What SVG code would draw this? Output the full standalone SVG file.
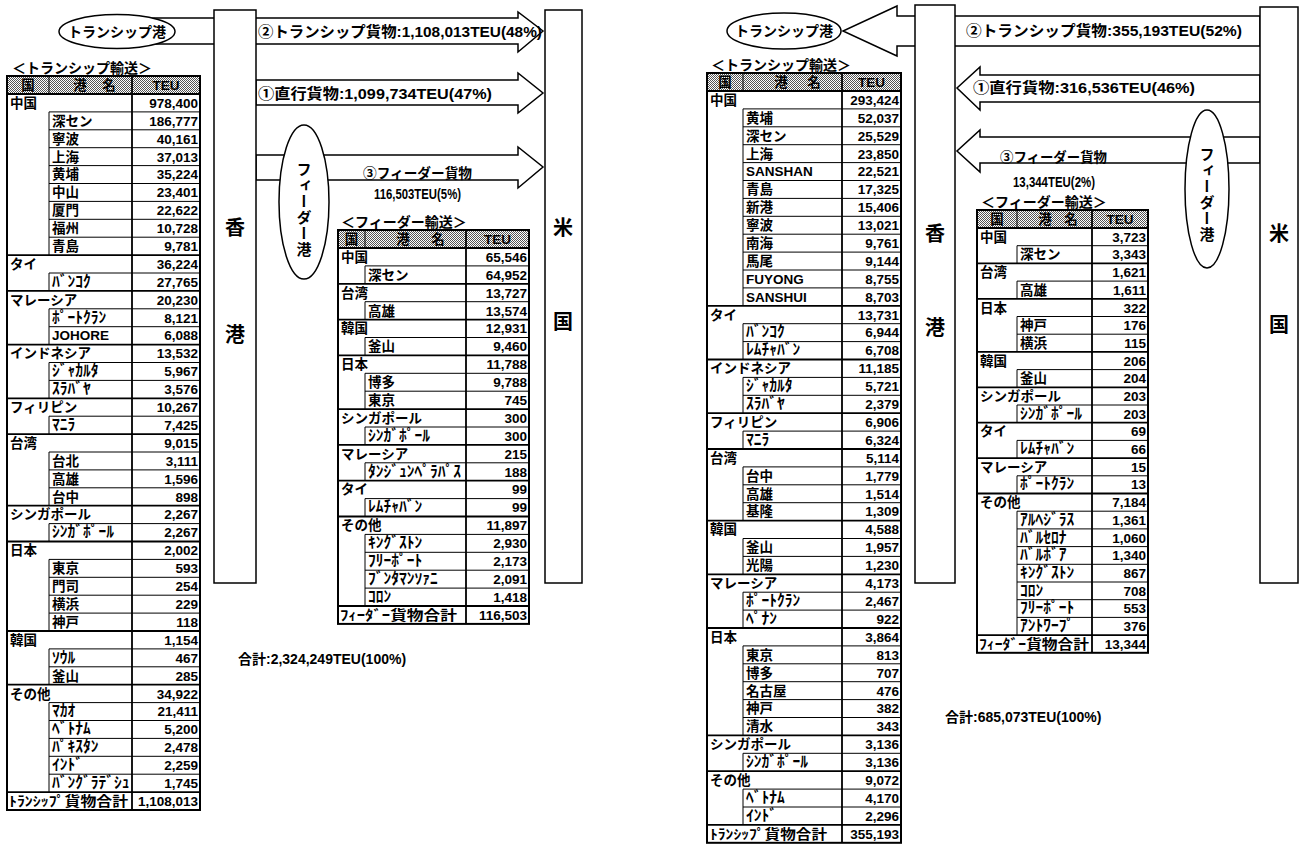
<svg xmlns="http://www.w3.org/2000/svg" width="1305" height="846" viewBox="0 0 1305 846">
<defs>
<pattern id="dot" width="2" height="2" patternUnits="userSpaceOnUse"><rect width="2" height="2" fill="#fff"/><rect width="1" height="1" fill="#555"/><rect x="1" y="1" width="1" height="1" fill="#555"/></pattern>
<style>
.t{font-family:"Liberation Sans","Noto Sans CJK JP",sans-serif;font-weight:bold;font-size:13.5px;fill:#000}
.k{font-size:15.5px}
.n{text-anchor:end}
.m{text-anchor:middle}
.lab{font-size:15px}
.lab2{font-size:14px}
.lab3{font-size:15px}
.ttl{font-size:14px}
.big{font-size:20px;text-anchor:middle}
.vt{font-family:"Noto Sans CJK JP",sans-serif;font-weight:bold;font-size:15px;writing-mode:vertical-rl;letter-spacing:1px}
.box{fill:#fff;stroke:#000;stroke-width:1.5}
.arr{fill:#fff;stroke:#000;stroke-width:1.5;stroke-linejoin:miter}
.thin{fill:none;stroke:#000;stroke-width:1}
.thick{fill:none;stroke:#000;stroke-width:1.8}
.outer{fill:none;stroke:#000;stroke-width:2}
.hdr{fill:url(#dot);stroke:#000;stroke-width:1}
</style>
</defs>
<rect width="1305" height="846" fill="#fff"/>

<g id="connectors">
<polygon class="arr" points="150,18 518,18 518,12 543,31 518,52 518,44 150,44"/>
<polygon class="arr" points="256,80 518,80 518,73 543,93 518,113 518,105 256,105"/>
<polygon class="arr" points="256,155 518,155 518,147 543,167 518,188 518,180 256,180"/>
<polygon class="arr" points="1260,16 897,16 897,6 843,31 897,56 897,46 1260,46"/>
<polygon class="arr" points="1260,75 980,75 980,67 957,88 980,110 980,102 1260,102"/>
<polygon class="arr" points="1260,137 980,137 980,130 957,151 980,172 980,163 1260,163"/>
</g>

<g id="hk-left"><rect class="box" x="214" y="10" width="42" height="573"/><text class="t big" x="235" y="235">香</text><text class="t big" x="235" y="342">港</text></g>
<g id="us-left"><rect class="box" x="545" y="10" width="37" height="573"/><text class="t big" x="563" y="235">米</text><text class="t big" x="563" y="329">国</text></g>
<g id="hk-right"><rect class="box" x="915" y="5" width="40" height="578"/><text class="t big" x="935" y="241">香</text><text class="t big" x="935" y="335">港</text></g>
<g id="us-right"><rect class="box" x="1260" y="7" width="38" height="576"/><text class="t big" x="1279" y="241">米</text><text class="t big" x="1279" y="332">国</text></g>

<g id="tp-left"><ellipse class="box" cx="117" cy="31.5" rx="58" ry="17"/><text class="t ttl m" x="117" y="37">トランシップ港</text></g>
<g id="tp-right"><ellipse class="box" cx="784" cy="31" rx="57" ry="18"/><text class="t ttl m" x="784" y="36">トランシップ港</text></g>
<g id="feeder-left"><ellipse class="box" cx="304" cy="202" rx="25" ry="77"/><text class="vt" x="304" y="162">フィーダー港</text></g>
<g id="feeder-right"><ellipse class="box" cx="1207" cy="189" rx="22" ry="79"/><text class="vt" x="1207" y="147">フィーダー港</text></g>

<g id="labels">
<text class="t lab" x="258" y="37" textLength="284" lengthAdjust="spacingAndGlyphs">②トランシップ貨物:1,108,013TEU(48%)</text>
<text class="t lab" x="258" y="99" textLength="234" lengthAdjust="spacingAndGlyphs">①直行貨物:1,099,734TEU(47%)</text>
<text class="t lab2" x="363" y="178" textLength="109" lengthAdjust="spacingAndGlyphs">③フィーダー貨物</text>
<text class="t lab3" x="374" y="199" textLength="87" lengthAdjust="spacingAndGlyphs">116,503TEU(5%)</text>
<text class="t lab" x="966" y="36" textLength="276" lengthAdjust="spacingAndGlyphs">②トランシップ貨物:355,193TEU(52%)</text>
<text class="t lab" x="973" y="93" textLength="222" lengthAdjust="spacingAndGlyphs">①直行貨物:316,536TEU(46%)</text>
<text class="t lab2" x="1000" y="162" textLength="107" lengthAdjust="spacingAndGlyphs">③フィーダー貨物</text>
<text class="t lab3" x="1013" y="187" textLength="82" lengthAdjust="spacingAndGlyphs">13,344TEU(2%)</text>
<text class="t ttl" x="238" y="664">合計:2,324,249TEU(100%)</text>
<text class="t ttl" x="945" y="722">合計:685,073TEU(100%)</text>
</g>

<g id="table-transship-left">
<text class="t ttl" x="12" y="73">＜トランシップ輸送＞</text>
<rect class="hdr" x="7" y="76" width="193" height="18"/>
<path class="thin" d="M49 76V94"/>
<text class="t m" x="28" y="90">国</text><text class="t m" x="80" y="90">港</text><text class="t m" x="109" y="90">名</text><text class="t m" x="166" y="90">TEU</text>
<path class="thin" d="M49 111.9H200M49 129.8H200M49 147.7H200M49 165.6H200M49 183.5H200M49 201.4H200M49 219.3H200M49 237.2H200M49 273H200M49 308.8H200M49 326.7H200M49 362.5H200M49 380.4H200M49 416.2H200M49 452H200M49 469.9H200M49 487.8H200M49 523.6H200M49 559.4H200M49 577.3H200M49 595.2H200M49 613.1H200M49 648.9H200M49 666.8H200M49 702.6H200M49 720.5H200M49 738.4H200M49 756.3H200M49 774.2H200M49 111.9V255.1M49 273V290.9M49 308.8V344.6M49 362.5V398.3M49 416.2V434.1M49 452V505.7M49 523.6V541.5M49 559.4V631M49 648.9V684.7M49 702.6V792.1"/>
<path class="thick" d="M7 94H200M7 255.1H200M7 290.9H200M7 344.6H200M7 398.3H200M7 434.1H200M7 505.7H200M7 541.5H200M7 631H200M7 684.7H200M7 792.1H200M132 76V810"/>
<rect class="outer" x="7" y="76" width="193" height="734"/>
<text class="t"><tspan x="10" y="107.8">中国</tspan><tspan x="52" dy="17.9">深セン</tspan><tspan x="52" dy="17.9">寧波</tspan><tspan x="52" dy="17.9">上海</tspan><tspan x="52" dy="17.9">黄埔</tspan><tspan x="52" dy="17.9">中山</tspan><tspan x="52" dy="17.9">厦門</tspan><tspan x="52" dy="17.9">福州</tspan><tspan x="52" dy="17.9">青島</tspan><tspan x="10" dy="17.9">タイ</tspan><tspan class="k" x="52" dy="17.9">ﾊﾞﾝｺｸ</tspan><tspan x="10" dy="17.9">マレーシア</tspan><tspan class="k" x="52" dy="17.9">ﾎﾟｰﾄｸﾗﾝ</tspan><tspan x="52" dy="17.9">JOHORE</tspan><tspan x="10" dy="17.9">インドネシア</tspan><tspan class="k" x="52" dy="17.9">ｼﾞｬｶﾙﾀ</tspan><tspan class="k" x="52" dy="17.9">ｽﾗﾊﾞﾔ</tspan><tspan x="10" dy="17.9">フィリピン</tspan><tspan class="k" x="52" dy="17.9">ﾏﾆﾗ</tspan><tspan x="10" dy="17.9">台湾</tspan><tspan x="52" dy="17.9">台北</tspan><tspan x="52" dy="17.9">高雄</tspan><tspan x="52" dy="17.9">台中</tspan><tspan x="10" dy="17.9">シンガポール</tspan><tspan class="k" x="52" dy="17.9">ｼﾝｶﾞﾎﾟｰﾙ</tspan><tspan x="10" dy="17.9">日本</tspan><tspan x="52" dy="17.9">東京</tspan><tspan x="52" dy="17.9">門司</tspan><tspan x="52" dy="17.9">横浜</tspan><tspan x="52" dy="17.9">神戸</tspan><tspan x="10" dy="17.9">韓国</tspan><tspan class="k" x="52" dy="17.9">ｿｳﾙ</tspan><tspan x="52" dy="17.9">釜山</tspan><tspan x="10" dy="17.9">その他</tspan><tspan class="k" x="52" dy="17.9">ﾏｶｵ</tspan><tspan class="k" x="52" dy="17.9">ﾍﾞﾄﾅﾑ</tspan><tspan class="k" x="52" dy="17.9">ﾊﾟｷｽﾀﾝ</tspan><tspan class="k" x="52" dy="17.9">ｲﾝﾄﾞ</tspan><tspan class="k" x="52" dy="17.9">ﾊﾞﾝｸﾞﾗﾃﾞｼｭ</tspan></text>
<text class="t" x="9" y="805.9" textLength="119" lengthAdjust="spacingAndGlyphs">ﾄﾗﾝｼｯﾌﾟ貨物合計</text>
<text class="t n"><tspan x="198" y="107.8">978,400</tspan><tspan x="198" dy="17.9">186,777</tspan><tspan x="198" dy="17.9">40,161</tspan><tspan x="198" dy="17.9">37,013</tspan><tspan x="198" dy="17.9">35,224</tspan><tspan x="198" dy="17.9">23,401</tspan><tspan x="198" dy="17.9">22,622</tspan><tspan x="198" dy="17.9">10,728</tspan><tspan x="198" dy="17.9">9,781</tspan><tspan x="198" dy="17.9">36,224</tspan><tspan x="198" dy="17.9">27,765</tspan><tspan x="198" dy="17.9">20,230</tspan><tspan x="198" dy="17.9">8,121</tspan><tspan x="198" dy="17.9">6,088</tspan><tspan x="198" dy="17.9">13,532</tspan><tspan x="198" dy="17.9">5,967</tspan><tspan x="198" dy="17.9">3,576</tspan><tspan x="198" dy="17.9">10,267</tspan><tspan x="198" dy="17.9">7,425</tspan><tspan x="198" dy="17.9">9,015</tspan><tspan x="198" dy="17.9">3,111</tspan><tspan x="198" dy="17.9">1,596</tspan><tspan x="198" dy="17.9">898</tspan><tspan x="198" dy="17.9">2,267</tspan><tspan x="198" dy="17.9">2,267</tspan><tspan x="198" dy="17.9">2,002</tspan><tspan x="198" dy="17.9">593</tspan><tspan x="198" dy="17.9">254</tspan><tspan x="198" dy="17.9">229</tspan><tspan x="198" dy="17.9">118</tspan><tspan x="198" dy="17.9">1,154</tspan><tspan x="198" dy="17.9">467</tspan><tspan x="198" dy="17.9">285</tspan><tspan x="198" dy="17.9">34,922</tspan><tspan x="198" dy="17.9">21,411</tspan><tspan x="198" dy="17.9">5,200</tspan><tspan x="198" dy="17.9">2,478</tspan><tspan x="198" dy="17.9">2,259</tspan><tspan x="198" dy="17.9">1,745</tspan><tspan x="198" dy="17.9">1,108,013</tspan></text>
</g>

<g id="table-feeder-left">
<text class="t ttl" x="341" y="227">＜フィーダー輸送＞</text>
<rect class="hdr" x="338" y="230" width="191" height="18"/>
<path class="thin" d="M365 230V248"/>
<text class="t m" x="351.5" y="244">国</text><text class="t m" x="403" y="244">港</text><text class="t m" x="438" y="244">名</text><text class="t m" x="497.5" y="244">TEU</text>
<path class="thin" d="M365 265.9H529M365 301.7H529M365 337.5H529M365 373.3H529M365 391.2H529M365 427H529M365 462.8H529M365 498.6H529M365 534.4H529M365 552.3H529M365 570.2H529M365 588.1H529M365 265.9V283.8M365 301.7V319.6M365 337.5V355.4M365 373.3V409.1M365 427V444.9M365 462.8V480.7M365 498.6V516.5M365 534.4V606"/>
<path class="thick" d="M338 248H529M338 283.8H529M338 319.6H529M338 355.4H529M338 409.1H529M338 444.9H529M338 480.7H529M338 516.5H529M338 606H529M466 230V623.9"/>
<rect class="outer" x="338" y="230" width="191" height="393.9"/>
<text class="t"><tspan x="341" y="261.8">中国</tspan><tspan x="368" dy="17.9">深セン</tspan><tspan x="341" dy="17.9">台湾</tspan><tspan x="368" dy="17.9">高雄</tspan><tspan x="341" dy="17.9">韓国</tspan><tspan x="368" dy="17.9">釜山</tspan><tspan x="341" dy="17.9">日本</tspan><tspan x="368" dy="17.9">博多</tspan><tspan x="368" dy="17.9">東京</tspan><tspan x="341" dy="17.9">シンガポール</tspan><tspan class="k" x="368" dy="17.9">ｼﾝｶﾞﾎﾟｰﾙ</tspan><tspan x="341" dy="17.9">マレーシア</tspan><tspan class="k" x="368" dy="17.9">ﾀﾝｼﾞｭﾝﾍﾟﾗﾊﾟｽ</tspan><tspan x="341" dy="17.9">タイ</tspan><tspan class="k" x="368" dy="17.9">ﾚﾑﾁｬﾊﾞﾝ</tspan><tspan x="341" dy="17.9">その他</tspan><tspan class="k" x="368" dy="17.9">ｷﾝｸﾞｽﾄﾝ</tspan><tspan class="k" x="368" dy="17.9">ﾌﾘｰﾎﾟｰﾄ</tspan><tspan class="k" x="368" dy="17.9">ﾌﾞﾝﾀﾏﾝｿｧﾆ</tspan><tspan class="k" x="368" dy="17.9">ｺﾛﾝ</tspan></text>
<text class="t" x="340" y="619.8" textLength="117" lengthAdjust="spacingAndGlyphs">ﾌｨｰﾀﾞｰ貨物合計</text>
<text class="t n"><tspan x="527" y="261.8">65,546</tspan><tspan x="527" dy="17.9">64,952</tspan><tspan x="527" dy="17.9">13,727</tspan><tspan x="527" dy="17.9">13,574</tspan><tspan x="527" dy="17.9">12,931</tspan><tspan x="527" dy="17.9">9,460</tspan><tspan x="527" dy="17.9">11,788</tspan><tspan x="527" dy="17.9">9,788</tspan><tspan x="527" dy="17.9">745</tspan><tspan x="527" dy="17.9">300</tspan><tspan x="527" dy="17.9">300</tspan><tspan x="527" dy="17.9">215</tspan><tspan x="527" dy="17.9">188</tspan><tspan x="527" dy="17.9">99</tspan><tspan x="527" dy="17.9">99</tspan><tspan x="527" dy="17.9">11,897</tspan><tspan x="527" dy="17.9">2,930</tspan><tspan x="527" dy="17.9">2,173</tspan><tspan x="527" dy="17.9">2,091</tspan><tspan x="527" dy="17.9">1,418</tspan><tspan x="527" dy="17.9">116,503</tspan></text>
</g>

<g id="table-transship-right">
<text class="t ttl" x="711" y="70">＜トランシップ輸送＞</text>
<rect class="hdr" x="707" y="73" width="194" height="18"/>
<path class="thin" d="M743 73V91"/>
<text class="t m" x="725" y="87">国</text><text class="t m" x="781" y="87">港</text><text class="t m" x="814" y="87">名</text><text class="t m" x="871.5" y="87">TEU</text>
<path class="thin" d="M743 108.9H901M743 126.8H901M743 144.7H901M743 162.6H901M743 180.5H901M743 198.4H901M743 216.3H901M743 234.2H901M743 252.1H901M743 270H901M743 287.9H901M743 323.7H901M743 341.6H901M743 377.4H901M743 395.3H901M743 431.1H901M743 466.9H901M743 484.8H901M743 502.7H901M743 538.5H901M743 556.4H901M743 592.2H901M743 610.1H901M743 645.9H901M743 663.8H901M743 681.7H901M743 699.6H901M743 717.5H901M743 753.3H901M743 789.1H901M743 807H901M743 108.9V305.8M743 323.7V359.5M743 377.4V413.2M743 431.1V449M743 466.9V520.6M743 538.5V574.3M743 592.2V628M743 645.9V735.4M743 753.3V771.2M743 789.1V824.9"/>
<path class="thick" d="M707 91H901M707 305.8H901M707 359.5H901M707 413.2H901M707 449H901M707 520.6H901M707 574.3H901M707 628H901M707 735.4H901M707 771.2H901M707 824.9H901M842 73V842.8"/>
<rect class="outer" x="707" y="73" width="194" height="769.8"/>
<text class="t"><tspan x="710" y="104.8">中国</tspan><tspan x="746" dy="17.9">黄埔</tspan><tspan x="746" dy="17.9">深セン</tspan><tspan x="746" dy="17.9">上海</tspan><tspan x="746" dy="17.9">SANSHAN</tspan><tspan x="746" dy="17.9">青島</tspan><tspan x="746" dy="17.9">新港</tspan><tspan x="746" dy="17.9">寧波</tspan><tspan x="746" dy="17.9">南海</tspan><tspan x="746" dy="17.9">馬尾</tspan><tspan x="746" dy="17.9">FUYONG</tspan><tspan x="746" dy="17.9">SANSHUI</tspan><tspan x="710" dy="17.9">タイ</tspan><tspan class="k" x="746" dy="17.9">ﾊﾞﾝｺｸ</tspan><tspan class="k" x="746" dy="17.9">ﾚﾑﾁｬﾊﾞﾝ</tspan><tspan x="710" dy="17.9">インドネシア</tspan><tspan class="k" x="746" dy="17.9">ｼﾞｬｶﾙﾀ</tspan><tspan class="k" x="746" dy="17.9">ｽﾗﾊﾞﾔ</tspan><tspan x="710" dy="17.9">フィリピン</tspan><tspan class="k" x="746" dy="17.9">ﾏﾆﾗ</tspan><tspan x="710" dy="17.9">台湾</tspan><tspan x="746" dy="17.9">台中</tspan><tspan x="746" dy="17.9">高雄</tspan><tspan x="746" dy="17.9">基隆</tspan><tspan x="710" dy="17.9">韓国</tspan><tspan x="746" dy="17.9">釜山</tspan><tspan x="746" dy="17.9">光陽</tspan><tspan x="710" dy="17.9">マレーシア</tspan><tspan class="k" x="746" dy="17.9">ﾎﾟｰﾄｸﾗﾝ</tspan><tspan class="k" x="746" dy="17.9">ﾍﾟﾅﾝ</tspan><tspan x="710" dy="17.9">日本</tspan><tspan x="746" dy="17.9">東京</tspan><tspan x="746" dy="17.9">博多</tspan><tspan x="746" dy="17.9">名古屋</tspan><tspan x="746" dy="17.9">神戸</tspan><tspan x="746" dy="17.9">清水</tspan><tspan x="710" dy="17.9">シンガポール</tspan><tspan class="k" x="746" dy="17.9">ｼﾝｶﾞﾎﾟｰﾙ</tspan><tspan x="710" dy="17.9">その他</tspan><tspan class="k" x="746" dy="17.9">ﾍﾞﾄﾅﾑ</tspan><tspan class="k" x="746" dy="17.9">ｲﾝﾄﾞ</tspan></text>
<text class="t" x="710" y="838.7" textLength="117" lengthAdjust="spacingAndGlyphs">ﾄﾗﾝｼｯﾌﾟ貨物合計</text>
<text class="t n"><tspan x="899" y="104.8">293,424</tspan><tspan x="899" dy="17.9">52,037</tspan><tspan x="899" dy="17.9">25,529</tspan><tspan x="899" dy="17.9">23,850</tspan><tspan x="899" dy="17.9">22,521</tspan><tspan x="899" dy="17.9">17,325</tspan><tspan x="899" dy="17.9">15,406</tspan><tspan x="899" dy="17.9">13,021</tspan><tspan x="899" dy="17.9">9,761</tspan><tspan x="899" dy="17.9">9,144</tspan><tspan x="899" dy="17.9">8,755</tspan><tspan x="899" dy="17.9">8,703</tspan><tspan x="899" dy="17.9">13,731</tspan><tspan x="899" dy="17.9">6,944</tspan><tspan x="899" dy="17.9">6,708</tspan><tspan x="899" dy="17.9">11,185</tspan><tspan x="899" dy="17.9">5,721</tspan><tspan x="899" dy="17.9">2,379</tspan><tspan x="899" dy="17.9">6,906</tspan><tspan x="899" dy="17.9">6,324</tspan><tspan x="899" dy="17.9">5,114</tspan><tspan x="899" dy="17.9">1,779</tspan><tspan x="899" dy="17.9">1,514</tspan><tspan x="899" dy="17.9">1,309</tspan><tspan x="899" dy="17.9">4,588</tspan><tspan x="899" dy="17.9">1,957</tspan><tspan x="899" dy="17.9">1,230</tspan><tspan x="899" dy="17.9">4,173</tspan><tspan x="899" dy="17.9">2,467</tspan><tspan x="899" dy="17.9">922</tspan><tspan x="899" dy="17.9">3,864</tspan><tspan x="899" dy="17.9">813</tspan><tspan x="899" dy="17.9">707</tspan><tspan x="899" dy="17.9">476</tspan><tspan x="899" dy="17.9">382</tspan><tspan x="899" dy="17.9">343</tspan><tspan x="899" dy="17.9">3,136</tspan><tspan x="899" dy="17.9">3,136</tspan><tspan x="899" dy="17.9">9,072</tspan><tspan x="899" dy="17.9">4,170</tspan><tspan x="899" dy="17.9">2,296</tspan><tspan x="899" dy="17.9">355,193</tspan></text>
</g>

<g id="table-feeder-right">
<text class="t ttl" x="981" y="207">＜フィーダー輸送＞</text>
<rect class="hdr" x="977" y="210" width="171" height="18"/>
<path class="thin" d="M1017 210V228"/>
<text class="t m" x="997" y="224">国</text><text class="t m" x="1045" y="224">港</text><text class="t m" x="1071" y="224">名</text><text class="t m" x="1120" y="224">TEU</text>
<path class="thin" d="M1017 245.7H1148M1017 281.1H1148M1017 316.5H1148M1017 334.2H1148M1017 369.6H1148M1017 405H1148M1017 440.4H1148M1017 475.8H1148M1017 511.2H1148M1017 528.9H1148M1017 546.6H1148M1017 564.3H1148M1017 582H1148M1017 599.7H1148M1017 617.4H1148M1017 245.7V263.4M1017 281.1V298.8M1017 316.5V351.9M1017 369.6V387.3M1017 405V422.7M1017 440.4V458.1M1017 475.8V493.5M1017 511.2V635.1"/>
<path class="thick" d="M977 228H1148M977 263.4H1148M977 298.8H1148M977 351.9H1148M977 387.3H1148M977 422.7H1148M977 458.1H1148M977 493.5H1148M977 635.1H1148M1092 210V652.8"/>
<rect class="outer" x="977" y="210" width="171" height="442.8"/>
<text class="t"><tspan x="980" y="241.7">中国</tspan><tspan x="1020" dy="17.7">深セン</tspan><tspan x="980" dy="17.7">台湾</tspan><tspan x="1020" dy="17.7">高雄</tspan><tspan x="980" dy="17.7">日本</tspan><tspan x="1020" dy="17.7">神戸</tspan><tspan x="1020" dy="17.7">横浜</tspan><tspan x="980" dy="17.7">韓国</tspan><tspan x="1020" dy="17.7">釜山</tspan><tspan x="980" dy="17.7">シンガポール</tspan><tspan class="k" x="1020" dy="17.7">ｼﾝｶﾞﾎﾟｰﾙ</tspan><tspan x="980" dy="17.7">タイ</tspan><tspan class="k" x="1020" dy="17.7">ﾚﾑﾁｬﾊﾞﾝ</tspan><tspan x="980" dy="17.7">マレーシア</tspan><tspan class="k" x="1020" dy="17.7">ﾎﾟｰﾄｸﾗﾝ</tspan><tspan x="980" dy="17.7">その他</tspan><tspan class="k" x="1020" dy="17.7">ｱﾙﾍｼﾞﾗｽ</tspan><tspan class="k" x="1020" dy="17.7">ﾊﾞﾙｾﾛﾅ</tspan><tspan class="k" x="1020" dy="17.7">ﾊﾞﾙﾎﾞｱ</tspan><tspan class="k" x="1020" dy="17.7">ｷﾝｸﾞｽﾄﾝ</tspan><tspan class="k" x="1020" dy="17.7">ｺﾛﾝ</tspan><tspan class="k" x="1020" dy="17.7">ﾌﾘｰﾎﾟｰﾄ</tspan><tspan class="k" x="1020" dy="17.7">ｱﾝﾄﾜｰﾌﾟ</tspan></text>
<text class="t" x="979" y="648.8" textLength="110" lengthAdjust="spacingAndGlyphs">ﾌｨｰﾀﾞｰ貨物合計</text>
<text class="t n"><tspan x="1146" y="241.7">3,723</tspan><tspan x="1146" dy="17.7">3,343</tspan><tspan x="1146" dy="17.7">1,621</tspan><tspan x="1146" dy="17.7">1,611</tspan><tspan x="1146" dy="17.7">322</tspan><tspan x="1146" dy="17.7">176</tspan><tspan x="1146" dy="17.7">115</tspan><tspan x="1146" dy="17.7">206</tspan><tspan x="1146" dy="17.7">204</tspan><tspan x="1146" dy="17.7">203</tspan><tspan x="1146" dy="17.7">203</tspan><tspan x="1146" dy="17.7">69</tspan><tspan x="1146" dy="17.7">66</tspan><tspan x="1146" dy="17.7">15</tspan><tspan x="1146" dy="17.7">13</tspan><tspan x="1146" dy="17.7">7,184</tspan><tspan x="1146" dy="17.7">1,361</tspan><tspan x="1146" dy="17.7">1,060</tspan><tspan x="1146" dy="17.7">1,340</tspan><tspan x="1146" dy="17.7">867</tspan><tspan x="1146" dy="17.7">708</tspan><tspan x="1146" dy="17.7">553</tspan><tspan x="1146" dy="17.7">376</tspan><tspan x="1146" dy="17.7">13,344</tspan></text>
</g>
</svg>
